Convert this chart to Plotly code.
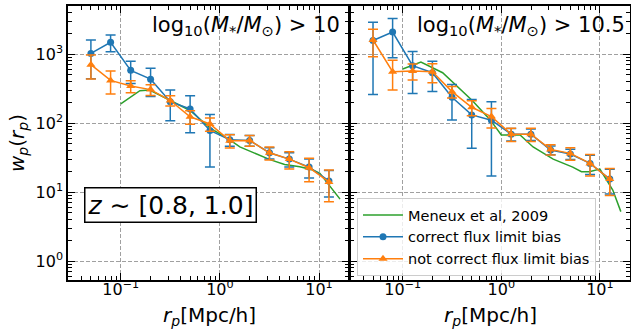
import plotly.graph_objects as go

# projected separations [Mpc/h]
r_p = [0.050, 0.079, 0.126, 0.200, 0.316, 0.501, 0.794, 1.259, 1.995, 3.162, 5.012, 7.943, 12.59]

# log10(M*/Msun) > 10
wp_corr_10 = [1020, 1480, 580, 432, 204, 160, 78, 57, 56, 37, 30, 23, 14.5]
err_corr_10 = [580, 400, 205, 190, 96, 88, 55, 11, 10, 7, 7, 7, 6]
wp_nocorr_10 = [700, 415, 343, 305, 212, 123, 97, 55.5, 56, 37, 30, 22.5, 14]
err_nocorr_10 = [267, 152, 68, 55, 36, 27, 21, 12, 10, 8, 8.5, 8.4, 6.8]
men_r_10 = [0.1, 0.156, 0.196, 0.313, 0.5, 0.8, 1.26, 1.59, 2.17, 3.2, 4.5, 6.4, 8.7, 10.2, 16.3]
men_wp_10 = [190, 294, 300, 215, 152, 84, 57, 45, 37, 29.5, 25, 23.3, 20.8, 18.7, 7.9]

# log10(M*/Msun) > 10.5
wp_corr_105 = [1570, 2085, 678, 536, 236, 131, 110, 69, 69, 40.6, 35.6, 26, 15.4]
err_corr_105 = [1310, 1200, 410, 250, 125, 88, 93, 14, 13, 6, 6, 8, 6]
wp_nocorr_105 = [1597, 555, 567, 555, 285, 169, 124, 69, 69, 41.5, 36.3, 26, 15.4]
err_nocorr_105 = [683, 255, 148, 170, 54, 42, 39, 15, 15, 7, 7.5, 9, 6.5]
men_r_105 = [0.1, 0.153, 0.254, 0.33, 0.51, 0.776, 1.0, 1.55, 2.1, 3.36, 5.3, 6.5, 7.8, 10.0, 13.5, 16.3]
men_wp_105 = [607, 766, 536, 376, 210, 110, 67, 67, 45, 30, 23, 19.7, 19.7, 21.5, 10.7, 5.2]

BLUE = "#1f77b4"
ORANGE = "#ff7f0e"
GREEN = "#2ca02c"
FONT = "DejaVu Sans"

fig = go.Figure()

panels = [
    ("x", "y", men_r_10, men_wp_10, wp_corr_10, err_corr_10, wp_nocorr_10, err_nocorr_10, False),
    ("x2", "y2", men_r_105, men_wp_105, wp_corr_105, err_corr_105, wp_nocorr_105, err_nocorr_105, True),
]
for xa, ya, mr, mw, wc, ec, wn, en, show in panels:
    fig.add_trace(go.Scatter(x=mr, y=mw, mode="lines", xaxis=xa, yaxis=ya,
                             line=dict(color=GREEN, width=1.5),
                             name="Meneux et al, 2009", showlegend=show))
    fig.add_trace(go.Scatter(x=r_p, y=wc, mode="lines+markers", xaxis=xa, yaxis=ya,
                             line=dict(color=BLUE, width=1.5),
                             marker=dict(symbol="circle", size=7, color=BLUE),
                             error_y=dict(type="data", array=ec, color=BLUE,
                                          thickness=1.5, width=5),
                             name="correct flux limit bias", showlegend=show))
    fig.add_trace(go.Scatter(x=r_p, y=wn, mode="lines+markers", xaxis=xa, yaxis=ya,
                             line=dict(color=ORANGE, width=1.5),
                             marker=dict(symbol="triangle-up", size=8, color=ORANGE),
                             error_y=dict(type="data", array=en, color=ORANGE,
                                          thickness=1.5, width=5),
                             name="not correct flux limit bias", showlegend=show))

W, H = 631, 331
LW = 1.5
x_left, x_mid, x_right = 68, 349.5, 629.5
y_top, y_bot = 6, 280

tickfont = dict(family=FONT, size=16, color="black")
common_x = dict(type="log", range=[-1.532, 1.30],
                tickvals=[0.1, 1, 10],
                ticktext=["10<sup>\u22121</sup>", "10<sup>0</sup>", "10<sup>1</sup>"],
                ticks="inside", ticklen=7, tickwidth=1, tickcolor="black",
                minor=dict(dtick="D1", ticks="inside", ticklen=4, tickwidth=1, tickcolor="black"),
                showline=True, linecolor="black", linewidth=LW, mirror="allticks",
                showgrid=True, gridcolor="#a0a0a0", griddash="4px,2px", gridwidth=1,
                zeroline=False, tickfont=tickfont, ticklabelstandoff=-6)
common_y = dict(type="log", range=[-0.275, 3.696],
                tickvals=[1, 10, 100, 1000],
                ticktext=["10<sup>0</sup>", "10<sup>1</sup>", "10<sup>2</sup>", "10<sup>3</sup>"],
                ticks="inside", ticklen=7, tickwidth=1, tickcolor="black",
                minor=dict(dtick="D1", ticks="inside", ticklen=4, tickwidth=1, tickcolor="black"),
                showline=True, linecolor="black", linewidth=LW, mirror="allticks",
                showgrid=True, gridcolor="#a0a0a0", griddash="4px,2px", gridwidth=1,
                zeroline=False, tickfont=tickfont,
                domain=[(H - y_bot) / H, (H - y_top) / H])

fig.update_layout(
    width=W, height=H,
    margin=dict(l=0, r=0, t=0, b=0),
    paper_bgcolor="white", plot_bgcolor="white",
    font=dict(family=FONT, color="black"),
    xaxis=dict(common_x, domain=[x_left / W, (x_mid - LW / 2) / W], anchor="y"),
    yaxis=dict(common_y, anchor="x"),
    # shared border: both panels' lines land on the same pixel column
    xaxis2=dict(common_x, domain=[(x_mid + LW / 2) / W, x_right / W], anchor="y2"),
    yaxis2=dict(common_y, anchor="x2", showticklabels=False),
    legend=dict(x=357 / W, y=(H - 237) / H, xanchor="left", yanchor="middle",
                bgcolor="rgba(255,255,255,0.8)", bordercolor="#cccccc", borderwidth=1,
                font=dict(family=FONT, size=14.5), itemwidth=40, tracegroupgap=0),
    showlegend=True,
)

mass_label = "log<sub>10</sub>(<i>M</i><sub>*</sub>/<i>M</i><sub>\u2299</sub>) > "
annotations = [
    dict(text=mass_label + "10", x=342 / W, y=(H - 26) / H, xanchor="right", yanchor="middle",
         font=dict(size=21)),
    dict(text=mass_label + "10.5", x=627 / W, y=(H - 26) / H, xanchor="right", yanchor="middle",
         font=dict(size=21)),
    dict(text="<i>z</i> \u223c [0.8, 1.0]", x=170.5 / W, y=(H - 205) / H,
         xanchor="center", yanchor="middle", font=dict(size=25),
         bgcolor="white", bordercolor="black", borderwidth=1.5, borderpad=2),
    dict(text="<i>w</i><sub><i>p</i></sub>(<i>r</i><sub><i>p</i></sub>)", x=18 / W, y=(H - 143) / H,
         xanchor="center", yanchor="middle", textangle=-90, font=dict(size=20)),
    dict(text="<i>r</i><sub><i>p</i></sub>[Mpc/h]", x=209 / W, y=(H - 316) / H,
         xanchor="center", yanchor="middle", font=dict(size=20)),
    dict(text="<i>r</i><sub><i>p</i></sub>[Mpc/h]", x=490 / W, y=(H - 316) / H,
         xanchor="center", yanchor="middle", font=dict(size=20)),
]
for a in annotations:
    a.update(xref="paper", yref="paper", showarrow=False)
    fig.add_annotation(**a)

fig.write_html("out.html")
